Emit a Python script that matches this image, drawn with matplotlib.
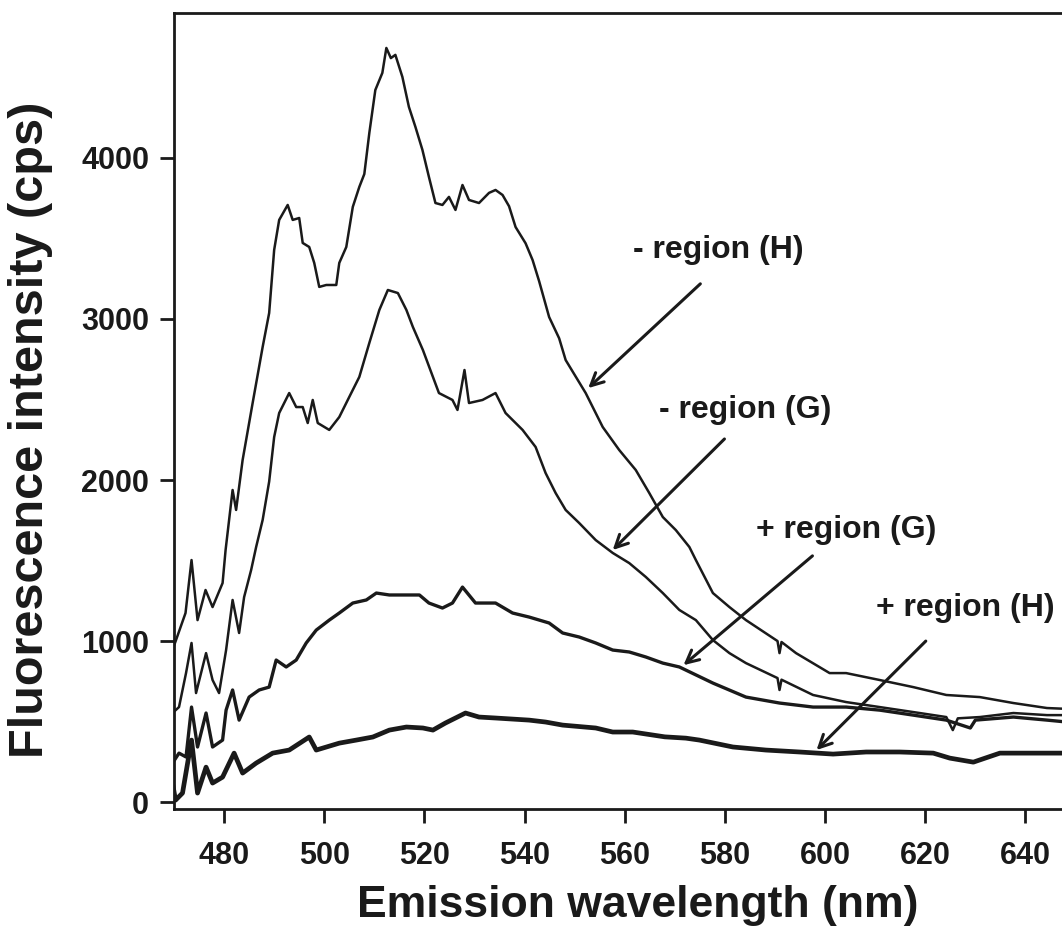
import matplotlib
matplotlib.use("Agg")
import matplotlib.pyplot as plt

plt.rcParams['font.family'] = ['Liberation Sans', 'DejaVu Sans']

# ---- data ----
wl_minus_H = [469.7, 472.3, 473.5, 474.7, 476.3, 477.7, 479.7, 480.3, 481.7, 482.4, 483.7, 485.7,
              487.7, 489.0, 490.0, 491.0, 492.7, 493.7, 495.0, 495.7, 497.0, 498.0, 499.0, 500.4,
              502.4, 503.0, 504.4, 505.7, 507.0, 508.0, 509.0, 510.2, 511.6, 512.4, 513.3, 514.2,
              515.6, 516.9, 518.2, 519.6, 520.9, 522.2, 523.6, 524.9, 526.2, 527.6, 528.9, 530.9,
              532.9, 534.2, 535.6, 536.9, 538.2, 540.2, 541.6, 542.9, 544.9, 546.9, 548.2, 552.2,
              555.6, 558.9, 562.2, 564.9, 567.6, 570.2, 572.9, 574.2, 577.6, 580.9, 584.2, 590.5,
              590.9, 591.3, 594.2, 600.9, 604.2, 610.9, 617.6, 624.2, 630.9, 637.6, 644.3, 647.3]
int_minus_H = [944, 1174, 1503, 1130, 1317, 1211, 1360, 1565, 1938, 1814, 2124, 2478,
               2826, 3037, 3429, 3615, 3708, 3615, 3627, 3472, 3447, 3348, 3199, 3211,
               3211, 3348, 3447, 3696, 3820, 3900, 4155, 4422, 4528, 4683, 4620, 4640,
               4503, 4317, 4193, 4050, 3882, 3720, 3708, 3758, 3677, 3832, 3739, 3720,
               3783, 3801, 3770, 3700, 3571, 3470, 3366, 3235, 3012, 2880, 2745, 2540,
               2329, 2186, 2062, 1919, 1770, 1689, 1584, 1503, 1298, 1211, 1130, 1000,
               925, 994, 925, 801, 801, 758, 714, 665, 652, 615, 584, 580]

wl_minus_G = [469.7, 471.0, 472.4, 473.5, 474.4, 476.4, 477.7, 479.0, 480.4, 481.7, 483.0, 484.0,
              485.4, 486.4, 487.7, 489.0, 490.0, 491.0, 493.0, 494.4, 495.7, 496.7, 497.7, 498.7,
              501.0, 503.0, 505.0, 507.0, 509.0, 511.0, 512.7, 514.7, 516.4, 517.7, 519.7, 521.4,
              522.9, 525.6, 526.6, 528.0, 528.9, 531.6, 534.2, 536.2, 539.6, 542.2, 544.2, 546.2,
              548.2, 550.9, 554.2, 557.6, 560.9, 564.2, 567.6, 570.9, 574.2, 577.6, 580.9, 584.2,
              590.5, 590.9, 591.3, 597.6, 604.2, 610.9, 617.6, 624.2, 625.5, 626.5, 630.9, 637.6,
              644.3, 647.3]
int_minus_G = [553, 590, 801, 988, 677, 925, 758, 677, 944, 1255, 1050, 1273,
               1441, 1584, 1752, 1990, 2267, 2416, 2540, 2453, 2453, 2354, 2497, 2354,
               2311, 2391, 2516, 2640, 2851, 3056, 3180, 3161, 3056, 2950, 2807, 2665,
               2540, 2497, 2435, 2683, 2478, 2497, 2540, 2416, 2311, 2205, 2043, 1919,
               1814, 1733, 1627, 1547, 1484, 1398, 1298, 1193, 1130, 1006, 925, 863,
               770, 696, 760, 665, 621, 590, 559, 528, 447, 520, 528, 553,
               540, 540]

wl_plus_G = [469.7, 471.0, 472.4, 473.5, 474.7, 476.4, 477.7, 479.7, 480.4, 481.7, 483.0, 485.0,
             487.0, 489.0, 490.4, 492.4, 494.4, 496.4, 498.4, 501.0, 503.0, 505.7, 508.4, 510.4,
             513.0, 516.4, 519.0, 520.9, 523.6, 525.6, 527.6, 530.2, 534.2, 537.6, 540.9, 544.9,
             547.6, 550.9, 554.2, 557.6, 560.9, 564.2, 567.6, 570.9, 577.6, 584.2, 590.9, 597.6,
             604.2, 610.9, 617.6, 624.2, 629.0, 630.0, 637.6, 644.3, 647.3]
int_plus_G = [242, 304, 280, 590, 342, 553, 342, 385, 571, 696, 509, 652,
              696, 714, 882, 839, 882, 988, 1068, 1130, 1174, 1236, 1255, 1298,
              1286, 1286, 1286, 1236, 1205, 1236, 1335, 1236, 1236, 1174, 1149, 1112,
              1050, 1025, 988, 944, 932, 901, 863, 839, 739, 652, 615, 590,
              590, 571, 540, 509, 460, 509, 528, 509, 500]

wl_plus_H = [469.7, 470.3, 471.7, 473.5, 474.7, 476.4, 477.7, 479.7, 482.0, 483.7, 486.4, 489.7,
             493.0, 497.0, 498.4, 503.0, 506.4, 509.7, 513.0, 516.4, 519.7, 521.7, 524.2, 528.2,
             530.9, 534.2, 540.9, 544.2, 547.6, 554.2, 557.6, 561.6, 568.0, 572.2, 574.9, 581.6,
             588.2, 594.9, 601.6, 608.2, 614.9, 621.6, 624.9, 629.6, 634.9, 641.6, 647.3]
int_plus_H = [118, 12, 56, 385, 56, 217, 118, 155, 304, 180, 242, 304,
              323, 404, 323, 366, 385, 404, 447, 466, 460, 447, 491, 553,
              528, 522, 509, 497, 478, 460, 435, 435, 405, 397, 385, 342,
              323, 311, 298, 311, 311, 304, 273, 248, 304, 304, 304]

labels = ["- region (H)", "- region (G)", "+ region (G)", "+ region (H)"]
# annotation text centres and arrow (tail, head) in data units
label_xy = [(578.7, 3430), (584.1, 2435), (604.3, 1689), (627.9, 1205)]
arrow_tail = [(575.5, 3230), (580.3, 2267), (597.9, 1540), (620.5, 1012)]
arrow_head = [(552.3, 2559), (557.2, 1553), (571.3, 839), (597.9, 311)]

xticks = [480, 500, 520, 540, 560, 580, 600, 620, 640]
yticks = [0, 1000, 2000, 3000, 4000]

# ---- figure ----
W, H = 1062, 943
fig = plt.figure(figsize=(W / 100, H / 100), dpi=100)
ax = fig.add_axes([174 / W, 1 - 809 / H, (W - 174) / W + 0.01, (809 - 13) / H])

ink = '#1a1a1a'
ax.plot(wl_minus_H, int_minus_H, color=ink, lw=1.8)
ax.plot(wl_minus_G, int_minus_G, color=ink, lw=1.8)
ax.plot(wl_plus_G, int_plus_G, color=ink, lw=2.4)
ax.plot(wl_plus_H, int_plus_H, color=ink, lw=3.4)

for lab, xy, t, h in zip(labels, label_xy, arrow_tail, arrow_head):
    ax.text(xy[0], xy[1], lab, ha='center', va='center', fontsize=23,
            fontweight='bold', color=ink)
    ax.annotate('', xy=h, xytext=t,
                arrowprops=dict(arrowstyle='->,head_length=0.9,head_width=0.45',
                                color=ink, lw=2.2))

ax.set_xlim(470, 647.3 + 0.01 * W / 5)
ax.set_ylim(-43, 4900)
ax.set_xticks(xticks)
ax.set_yticks(yticks)
ax.tick_params(direction='out', length=10, width=2, colors=ink, labelsize=22)
ax.tick_params(axis='x', pad=13)
ax.tick_params(axis='y', pad=8)
for lbl in ax.get_xticklabels() + ax.get_yticklabels():
    lbl.set_fontweight('bold')
for side in ['left', 'top', 'bottom']:
    ax.spines[side].set_linewidth(2)
    ax.spines[side].set_color(ink)
ax.spines['right'].set_visible(False)

fig.text(638 / W, 1 - 905 / H, "Emission wavelength (nm)", ha='center', va='center',
         fontsize=32, fontweight='bold', color=ink)
fig.text(31 / W, 1 - 430 / H, "Fluorescence intensity (cps)", ha='center', va='center',
         rotation=90, fontsize=35, fontweight='bold', color=ink)

fig.savefig("out.png", dpi=100)
